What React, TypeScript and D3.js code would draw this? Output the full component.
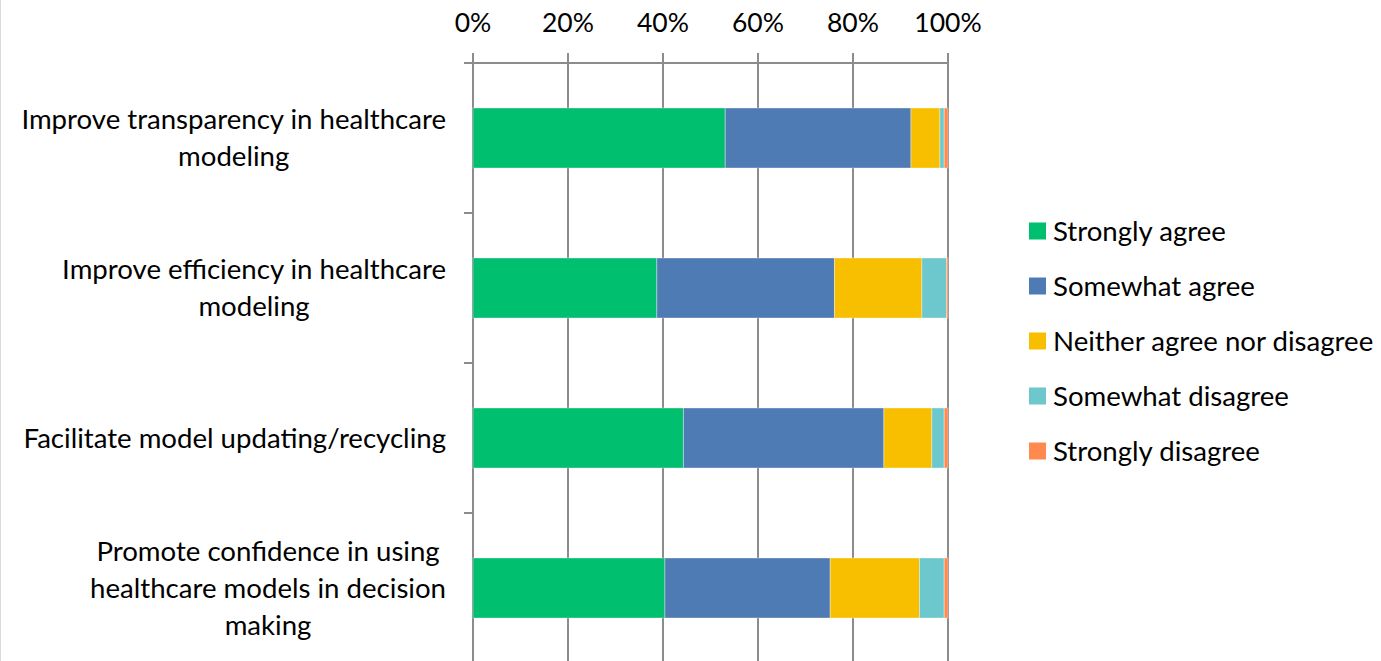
import React, { useEffect, useRef } from "react";
import * as d3 from "d3";

const categories: string[][] = [
  ["Improve transparency in healthcare", "modeling"],
  ["Improve efficiency in healthcare", "modeling"],
  ["Facilitate model updating/recycling"],
  ["Promote confidence in using", "healthcare models in decision", "making"],
];
const seriesNames = [
  "Strongly agree",
  "Somewhat agree",
  "Neither agree nor disagree",
  "Somewhat disagree",
  "Strongly disagree",
];
const stronglyAgree = [53.1, 38.7, 44.3, 40.4];
const somewhatAgree = [39.1, 37.4, 42.2, 34.8];
const neither = [6.1, 18.4, 10.1, 18.8];
const somewhatDisagree = [0.9, 5.2, 2.6, 5.2];
const stronglyDisagree = [0.8, 0.3, 0.8, 0.8];
const tickValues = [0, 20, 40, 60, 80, 100];
const colors = ["#00BF6F", "#4F7BB5", "#F8BF00", "#6CC8CC", "#FF8A50"];

const FONT = "Lato, 'Open Sans', sans-serif";

export default function App() {
  const ref = useRef<SVGSVGElement>(null);

  useEffect(() => {
    const svg = d3.select(ref.current);
    svg.selectAll("*").remove();

    const W = 1381, H = 661;
    const x = d3.scaleLinear().domain([0, 100]).range([473, 948]);
    const keys = categories.map((c) => c.join(" "));
    const y = d3.scaleBand<string>().domain(keys).range([63, 663]).paddingInner(0.6).paddingOuter(0.3);
    const step = y.step();

    const series = [stronglyAgree, somewhatAgree, neither, somewhatDisagree, stronglyDisagree];
    const table = keys.map((k, i) => {
      const row: any = { key: k };
      seriesNames.forEach((s, j) => (row[s] = series[j][i]));
      return row;
    });
    const stacked = d3.stack<any>().keys(seriesNames)(table);

    svg.append("rect").attr("x", 0).attr("y", 0).attr("width", W).attr("height", H).attr("fill", "#fff");
    svg.append("line").attr("x1", 0.5).attr("x2", 0.5).attr("y1", 0).attr("y2", H).attr("stroke", "#d9d9d9").attr("stroke-width", 1);

    const gridColor = "#8c8c8c";
    tickValues.forEach((t) => {
      svg.append("line").attr("x1", x(t)).attr("x2", x(t)).attr("y1", 53).attr("y2", H)
        .attr("stroke", gridColor).attr("stroke-width", 2);
    });
    svg.append("line").attr("x1", 464).attr("x2", x(100) + 1).attr("y1", 63).attr("y2", 63)
      .attr("stroke", gridColor).attr("stroke-width", 2);
    for (let i = 0; i <= keys.length; i++) {
      const yy = 63 + i * step;
      svg.append("line").attr("x1", 464).attr("x2", 473).attr("y1", yy).attr("y2", yy)
        .attr("stroke", gridColor).attr("stroke-width", 2);
    }

    stacked.forEach((s, j) => {
      svg.append("g").selectAll("rect").data(s).join("rect")
        .attr("x", (d) => x(d[0]))
        .attr("width", (d) => x(d[1]) - x(d[0]))
        .attr("y", (d) => y(d.data.key)!)
        .attr("height", y.bandwidth())
        .attr("fill", colors[j])
        .attr("stroke", "#ffffff")
        .attr("stroke-opacity", 0.35)
        .attr("stroke-width", 1);
    });

    svg.append("g").selectAll("text").data(tickValues).join("text")
      .attr("x", (d) => x(d))
      .attr("y", 32)
      .attr("text-anchor", "middle")
      .attr("font-family", FONT)
      .attr("font-size", 26.5)
      .attr("fill", "#000")
      .text((d) => `${d}%`);

    const lineH = 37;
    const rightEdge = 446;
    categories.forEach((lines, i) => {
      const cy = y(keys[i])! + y.bandwidth() / 2;
      const g = svg.append("g");
      const texts = g.selectAll("text").data(lines).join("text")
        .attr("y", (_, k) => cy + (k - (lines.length - 1) / 2) * lineH)
        .attr("dy", "0.35em")
        .attr("text-anchor", "middle")
        .attr("font-family", FONT)
        .attr("font-size", 27.6)
        .attr("fill", "#000")
        .text((d) => d);
      let maxW = 0;
      texts.each(function () {
        maxW = Math.max(maxW, (this as SVGTextElement).getComputedTextLength());
      });
      texts.attr("x", rightEdge - maxW / 2);
    });

    const lg = svg.append("g");
    seriesNames.forEach((s, j) => {
      const cy = 231 + j * 55;
      lg.append("rect").attr("x", 1029).attr("y", cy - 8.5).attr("width", 17).attr("height", 17).attr("fill", colors[j]);
      lg.append("text").attr("x", 1053).attr("y", cy).attr("dy", "0.35em")
        .attr("font-family", FONT).attr("font-size", 27.6).attr("fill", "#000").text(s);
    });
  }, []);

  return (
    <svg
      ref={ref}
      width={1381}
      height={661}
      style={{ position: "absolute", left: 0, top: 0, display: "block" }}
    />
  );
}
